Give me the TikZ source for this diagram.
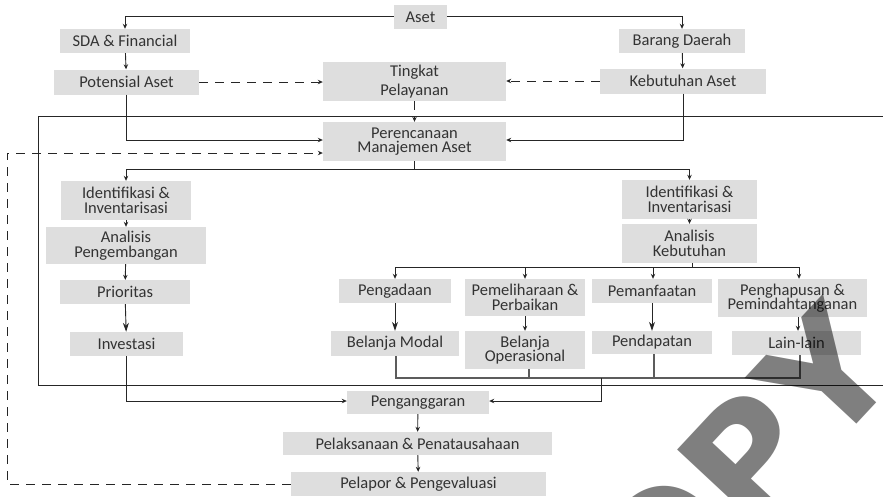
\documentclass[tikz,border=0pt]{standalone}
\usepackage{fontspec}
\setmainfont{Carlito}
\newfontfamily\markfont{DejaVu Sans}
\usetikzlibrary{arrows.meta}
\definecolor{boxgray}{HTML}{DEDEDE}
\definecolor{txt}{HTML}{333333}
\definecolor{ln}{HTML}{262626}
\begin{document}
\begin{tikzpicture}[x=1pt,y=-1pt,
  box/.style={fill=boxgray, inner sep=0pt, align=center, text=txt,
    font=\fontsize{16.5}{14.5}\selectfont},
  link/.style={draw=ln, line width=0.9pt},
  arr/.style={link, -{Stealth[length=5pt,width=4.5pt]}},
  bigarr/.style={link, -{Stealth[length=9pt,width=6pt]}},
  dsh/.style={link, dash pattern=on 9pt off 7pt},
  darr/.style={dsh, -{Stealth[length=5pt,width=4.5pt]}}]
\useasboundingbox (0,0) rectangle (883,496);

% outer frame around planning and analysis
\draw[link] (883,116) -- (38,116) -- (38,385) -- (883,385);

% top level
\node[box, minimum width=53pt, minimum height=24pt] (aset) at (420.5,17) {Aset};
\node[box, minimum width=130pt, minimum height=24pt] (sda) at (125,41) {SDA \& Financial};
\node[box, minimum width=126pt, minimum height=24pt] (barang) at (682,41) {Barang Daerah};
\node[box, minimum width=145pt, minimum height=25pt] (pot) at (126.5,82) {Potensial Aset};
\node[box, minimum width=183pt, minimum height=39pt, font=\fontsize{16.5}{19}\selectfont] (tingkat) at (414.5,81.5) {Tingkat\\Pelayanan};
\node[box, minimum width=166pt, minimum height=25pt] (kebut) at (683,81) {Kebutuhan Aset};
\node[box, minimum width=183pt, minimum height=39pt] (perenc) at (414.5,141.5) {Perencanaan\\Manajemen Aset};

% left branch
\node[box, minimum width=130pt, minimum height=39pt] (idL) at (126,200.5) {Identifikasi \&\\Inventarisasi};
\node[box, minimum width=160pt, minimum height=37pt] (anL) at (126,245.5) {Analisis\\Pengembangan};
\node[box, minimum width=130pt, minimum height=24pt] (prio) at (125,292) {Prioritas};
\node[box, minimum width=113pt, minimum height=24pt] (inv) at (126.5,344) {Investasi};

% right branch
\node[box, minimum width=135pt, minimum height=39pt] (idR) at (689.5,199.5) {Identifikasi \&\\Inventarisasi};
\node[box, minimum width=135pt, minimum height=39pt] (anR) at (689.5,243.5) {Analisis\\Kebutuhan};
\node[box, minimum width=112pt, minimum height=24pt] (peng) at (395,291) {Pengadaan};
\node[box, minimum width=120pt, minimum height=37pt] (pemel) at (525,297.5) {Pemeliharaan \&\\Perbaikan};
\node[box, minimum width=120pt, minimum height=24pt] (pemanf) at (652,291) {Pemanfaatan};
\node[box, minimum width=149pt, minimum height=38pt] (penghap) at (792.5,298) {Penghapusan \&\\Pemindahtanganan};
\node[box, minimum width=128pt, minimum height=25pt] (bmodal) at (395,343.5) {Belanja Modal};
\node[box, minimum width=120pt, minimum height=38pt] (bop) at (525,350) {Belanja\\Operasional};
\node[box, minimum width=120pt, minimum height=23pt] (pend) at (652,342.5) {Pendapatan};
\node[box, minimum width=129pt, minimum height=24pt] (lain) at (796.5,343) {Lain-lain};

% budgeting chain
\node[box, minimum width=142pt, minimum height=23pt] (pang) at (418,402.5) {Penganggaran};
\node[box, minimum width=269pt, minimum height=23pt] (pelak) at (417.5,443.5) {Pelaksanaan \& Penatausahaan};
\node[box, minimum width=255pt, minimum height=24pt] (pelap) at (418.5,484) {Pelapor \& Pengevaluasi};

% top connectors
\draw[arr] ([yshift=1pt]aset.west) -| (sda.north);
\draw[arr] ([yshift=1pt]aset.east) -| (barang.north);
\draw[arr] (sda) -- (pot);
\draw[arr] (barang) -- (kebut);
\draw[darr] (pot.east) -- (pot.east -| tingkat.west);
\draw[darr] (kebut.west) -- (kebut.west -| tingkat.east);
\draw[darr] (tingkat) -- (perenc);
\draw[arr] (pot.south) |- ([yshift=1.5pt]perenc.west);
\draw[arr] (kebut.south) |- ([yshift=1.5pt]perenc.east);

% split into the two analysis branches
\coordinate (split) at (414.5,169);
\draw[link] (perenc.south) -- (split);
\draw[arr] (split) -| (idL.north);
\draw[arr] (split) -| (idR.north);
\draw[arr] (idL) -- (anL);
\draw[arr] (anL) -- (prio);
\draw[bigarr] (prio) -- (inv);
\draw[arr] (idR) -- (anR);

% four activities under needs analysis
\coordinate (act) at (692,267);
\draw[link] (anR.south -| act) -- (act);
\draw[arr] (act) -| (peng.north);
\draw[arr] (act) -| (pemel.north);
\draw[arr] (act) -| ([xshift=1pt]pemanf.north);
\draw[arr] (act) -| ([xshift=6.5pt]penghap.north);
\draw[bigarr] (peng) -- (bmodal);
\draw[arr] (pemel) -- (bop);
\draw[bigarr] (pemanf) -- (pend);
\draw[arr] ([xshift=5.5pt]penghap.south) -- ([xshift=1.5pt]lain.north);

% collecting the spending lines
\coordinate (coll) at (601,378);
\draw[link, draw=ln!75, line width=1.4pt] ([xshift=1pt]bmodal.south) |- ([xshift=3.5pt]lain.south |- coll) -- ([xshift=3.5pt]lain.south);
\draw[link, draw=ln!75, line width=1.2pt] ([xshift=4pt]bop.south) -- ([xshift=4pt]bop.south |- coll);
\draw[link, draw=ln!75, line width=1.2pt] ([xshift=2pt]pend.south) -- ([xshift=2pt]pend.south |- coll);
\draw[arr] (coll) |- ([yshift=1.5pt]pang.east);
\draw[arr] (inv.south) |- ([yshift=1.5pt]pang.west);

% budgeting chain connectors
\draw[arr] (pang) -- (pelak);
\draw[arr] (pelak) -- (pelap);

% feedback from evaluation to planning
\draw[darr] (pelap.west) -| (7,153) -- ([yshift=-11.5pt]perenc.west);

% watermark
\begin{scope}
\clip (0,0) rectangle (883,496);
\node[rotate=47, text=black, text opacity=0.5, font=\markfont\bfseries\fontsize{155}{155}\selectfont]
  (mark) at (703,506) {COPY};
\end{scope}
\end{tikzpicture}
\end{document}
